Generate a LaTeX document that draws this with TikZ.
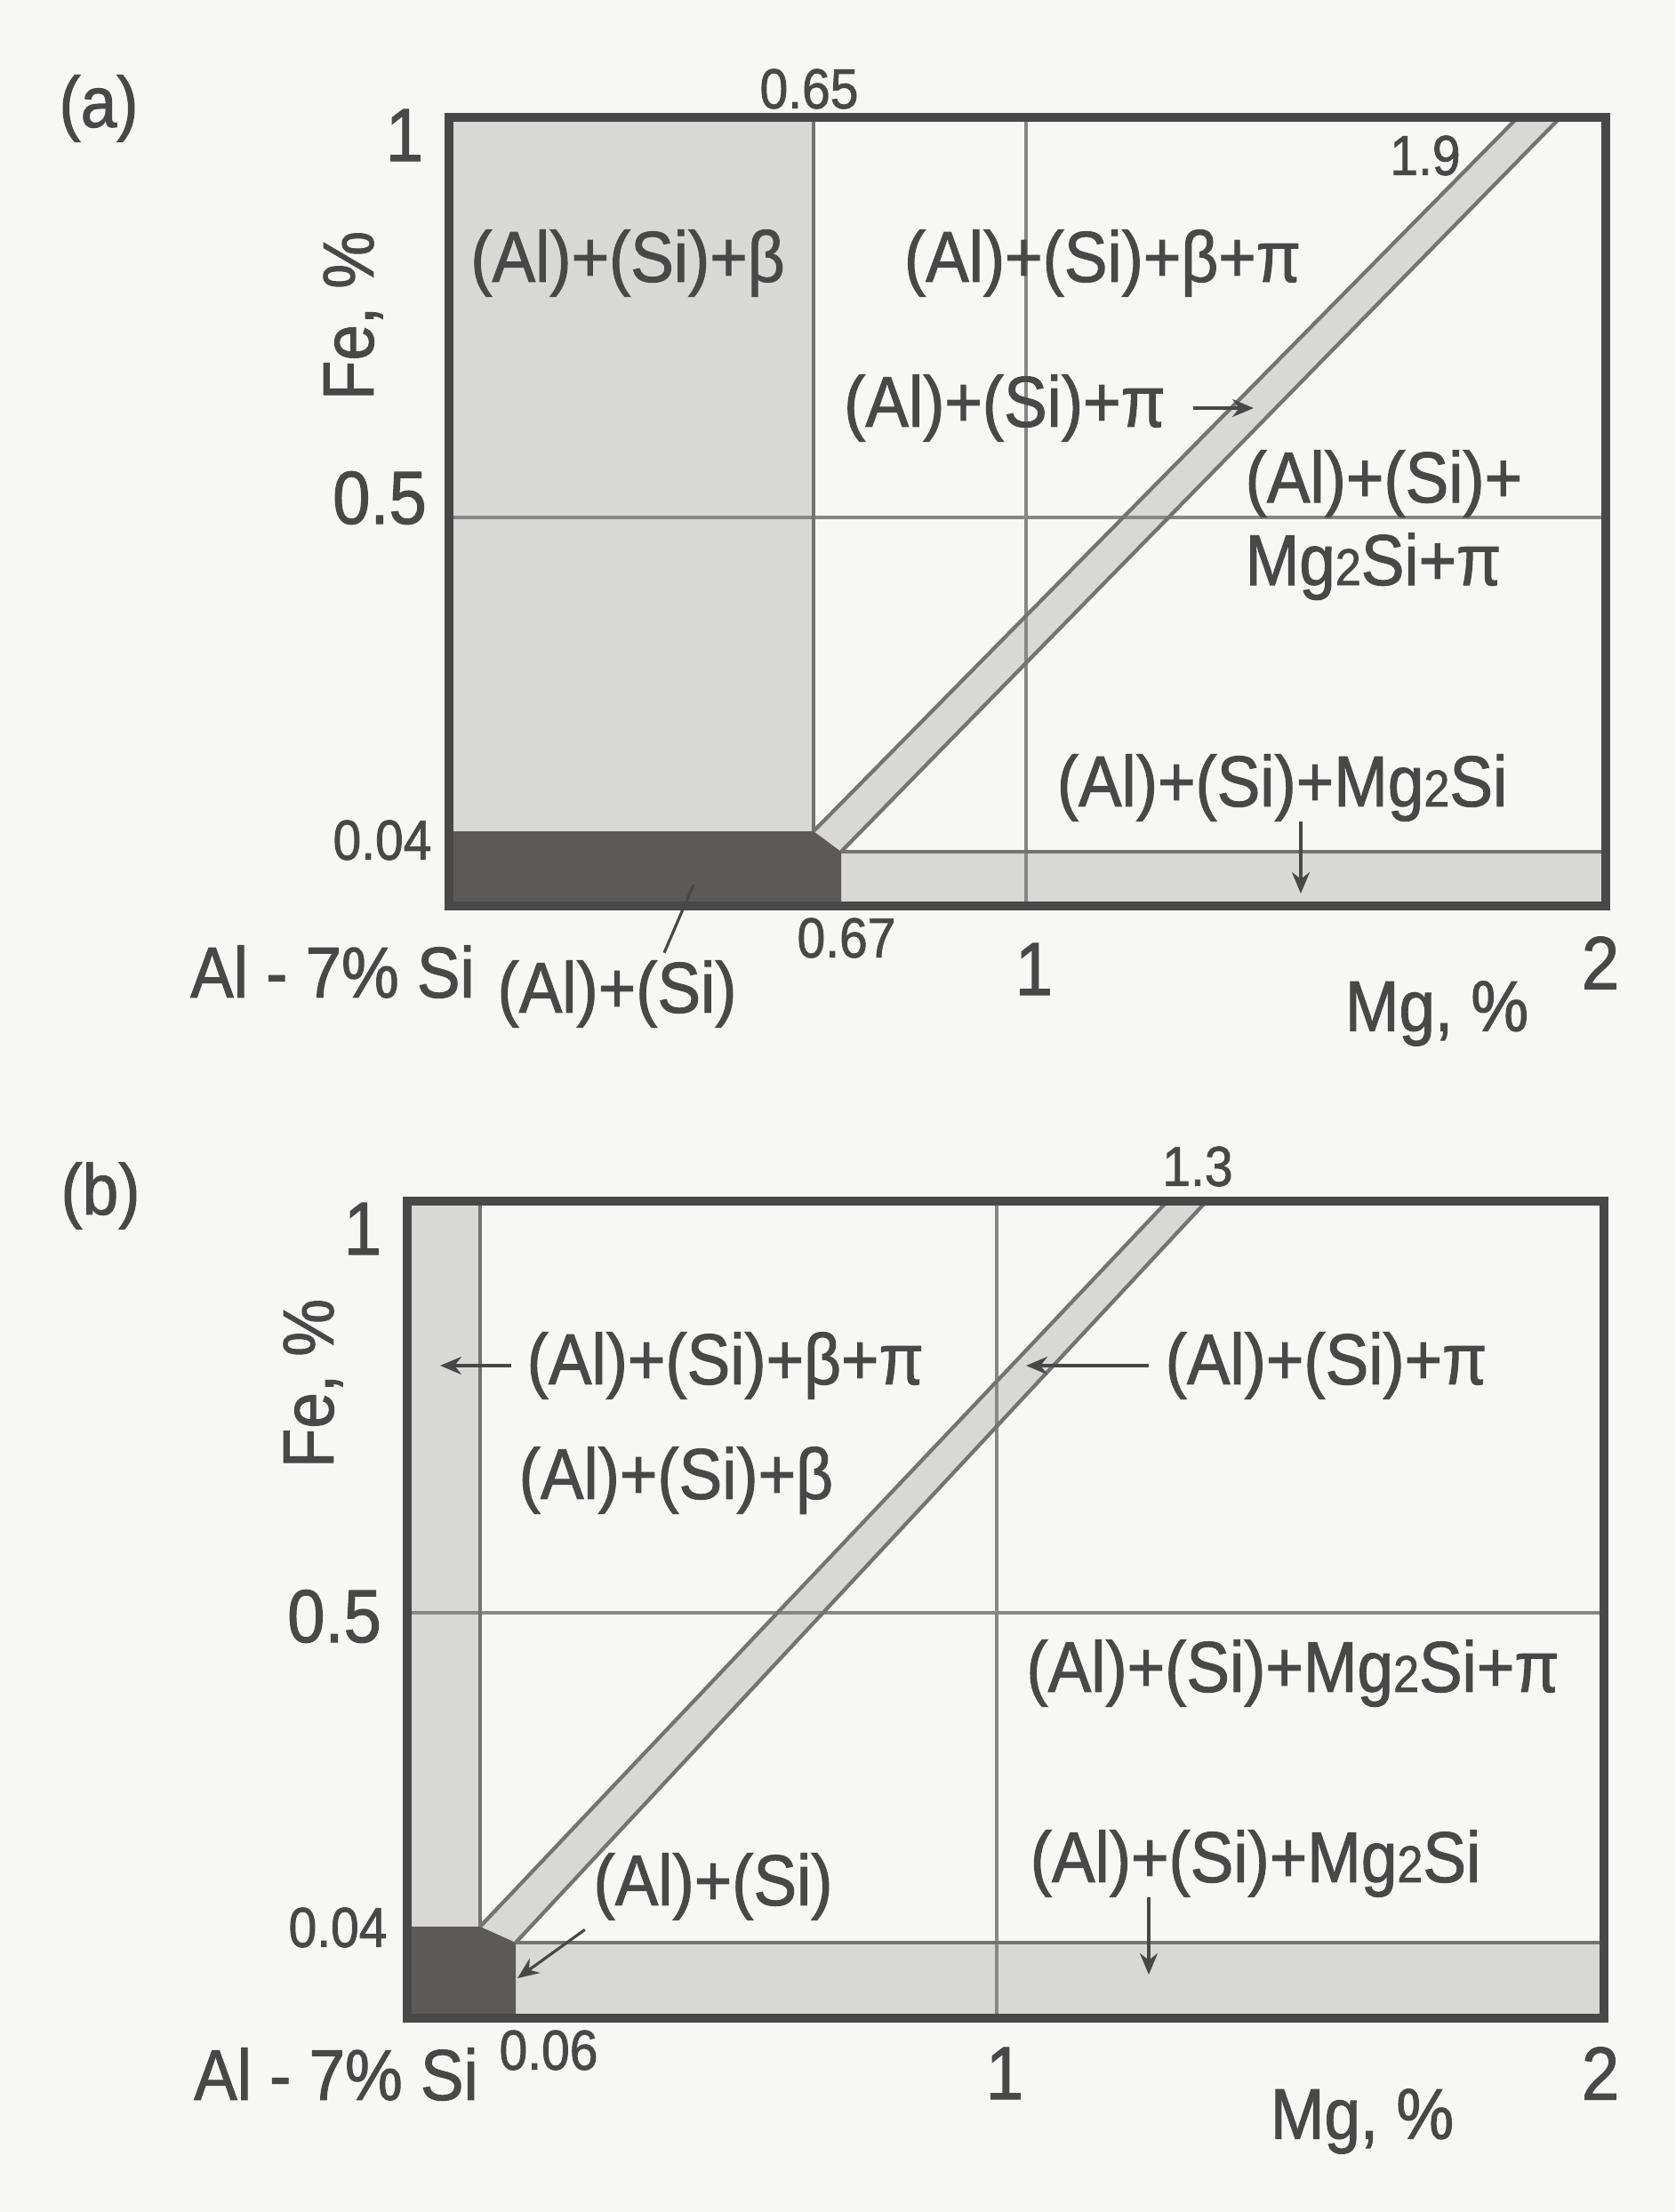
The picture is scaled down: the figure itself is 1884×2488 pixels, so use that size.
\documentclass[tikz,border=0pt]{standalone}
\usepackage{fontspec}
\setmainfont{Liberation Sans}[FakeStretch=0.9, FakeBold=1.3]
\usetikzlibrary{arrows.meta}
\definecolor{bg}{RGB}{247,247,245}
\definecolor{ink}{RGB}{72,72,72}
\definecolor{lgray}{RGB}{216,216,214}
\definecolor{dgray}{RGB}{92,90,88}
\definecolor{gridc}{RGB}{135,135,135}
\newcommand{\rgfnt}{\fontsize{23pt}{27pt}\selectfont}
\newcommand{\tkfnt}{\fontsize{24pt}{28pt}\selectfont}
\newcommand{\snfnt}{\fontsize{18pt}{21pt}\selectfont}
\newcommand{\mgtwo}{{\fontsize{16.5pt}{16.5pt}\selectfont 2}}
\tikzset{
  reglab/.style={text=ink, font=\rgfnt, inner sep=0pt},
  ticklab/.style={text=ink, font=\tkfnt, inner sep=0pt},
  axlab/.style={text=ink, font=\rgfnt, inner sep=0pt},
  numlab/.style={text=ink, font=\snfnt, inner sep=0pt},
  boxframe/.style={draw=ink, line width=3.1pt},
  gridline/.style={draw=gridc, line width=1.3pt},
  lightfill/.style={fill=lgray},
  darkfill/.style={fill=dgray},
  bandedge/.style={draw=gridc!85!black, line width=1.2pt},
  ptr/.style={draw=ink, line width=0.9pt, -{Stealth[length=0.24cm,width=0.2cm]}},
  lead/.style={draw=ink, line width=0.9pt},
}
\begin{document}
\begin{tikzpicture}[x=0.01cm, y=-0.01cm]
\path[use as bounding box, fill=bg] (0,0) rectangle (1884,2488);

% ================= panel (a) =================
\fill[lightfill] (505,132) rectangle (915,935);
\fill[lightfill] (946,958) rectangle (1806,1019);
\fill[lightfill] (915,935) -- (1707,132) -- (1755,132) -- (946,958) -- cycle;
\fill[darkfill] (505,935) -- (915,935) -- (946,958) -- (946,1019) -- (505,1019) -- cycle;
\draw[gridline] (1154,132) -- (1154,1019);
\draw[gridline] (505,582) -- (1806,582);
\draw[bandedge] (915,132) -- (915,935);
\draw[bandedge] (915,935) -- (1707,132);
\draw[bandedge] (946,958) -- (1755,132);
\draw[bandedge] (946,958) -- (1806,958);
\draw[boxframe] (505,132) rectangle (1806,1019);

\node[axlab] (pa) at (111,122) {(a)};
\node[numlab] (a065) at (910,100) {0.65};
\node[ticklab] (ay1) at (455,152) {1};
\node[ticklab] (ay05) at (427,560) {0.5};
\node[numlab] (ay004) at (430,945) {0.04};
\node[axlab, rotate=90] (afe) at (397,355) {Fe, \%};
\node[numlab] (a19) at (1603,175) {1.9};
\node[reglab] (ar1) at (706,296) {(Al)+(Si)+β};
\node[reglab] (ar2) at (1240,296) {(Al)+(Si)+β+π};
\node[reglab] (ar3) at (1130,459) {(Al)+(Si)+π};
\coordinate (ar3t) at (1410,459);
\draw[ptr] ([xshift=0.3cm]ar3.east) -- (ar3t);
\node[reglab, anchor=base west] (ar4) at (1400,565) {(Al)+(Si)+};
\node[reglab, anchor=base west] (ar4b) at (1400,658) {Mg\mgtwo Si+π};
\node[reglab] (ar5) at (1442,886) {(Al)+(Si)+Mg\mgtwo Si};
\coordinate (ar5t) at (1463,1005);
\draw[ptr] (ar5.south -| ar5t) -- (ar5t);
\node[numlab] (a067) at (952,1055) {0.67};
\node[ticklab] (ax1) at (1163,1090) {1};
\node[ticklab] (ax2) at (1800,1083) {2};
\node[axlab] (amg) at (1616,1140) {Mg, \%};
\node[axlab] (asi) at (374,1093) {Al - 7\% Si};
\node[reglab] (ar6) at (694,1118) {(Al)+(Si)};
\coordinate (ar6t) at (780,995);
\draw[lead] ([xshift=0.53cm,yshift=0.08cm]ar6.north) -- (ar6t);

% ================= panel (b) =================
\fill[lightfill] (458,1351) rectangle (540,2167);
\fill[lightfill] (580,2185) rectangle (1804,2270);
\fill[lightfill] (540,2167) -- (1313,1351) -- (1357,1351) -- (580,2185) -- cycle;
\fill[darkfill] (458,2167) -- (540,2167) -- (580,2185) -- (580,2270) -- (458,2270) -- cycle;
\draw[gridline] (1121,1351) -- (1121,2270);
\draw[gridline] (458,1814) -- (1804,1814);
\draw[bandedge] (540,1351) -- (540,2167);
\draw[bandedge] (540,2167) -- (1313,1351);
\draw[bandedge] (580,2185) -- (1357,1351);
\draw[bandedge] (580,2185) -- (1804,2185);
\draw[boxframe] (458,1351) rectangle (1804,2270);

\node[axlab] (pb) at (113,1345) {(b)};
\node[numlab] (b13) at (1347,1312) {1.3};
\node[ticklab] (by1) at (408,1382) {1};
\node[ticklab] (by05) at (376,1818) {0.5};
\node[numlab] (by004) at (380,2168) {0.04};
\node[axlab, rotate=90] (bfe) at (352,1556) {Fe, \%};
\node[reglab, anchor=west] (br1) at (592,1536) {(Al)+(Si)+β+π};
\coordinate (br1t) at (495,1536);
\draw[ptr] ([xshift=-0.17cm]br1.west) -- (br1t);
\node[reglab, anchor=west] (br2) at (583,1665) {(Al)+(Si)+β};
\node[reglab, anchor=west] (br3) at (1310,1536) {(Al)+(Si)+π};
\coordinate (br3t) at (1154,1536);
\draw[ptr] ([xshift=-0.18cm]br3.west) -- (br3t);
\node[reglab] (br4) at (1454,1882) {(Al)+(Si)+Mg\mgtwo Si+π};
\node[reglab] (br5) at (1412,2096) {(Al)+(Si)+Mg\mgtwo Si};
\coordinate (br5t) at (1292,2221);
\draw[ptr] (br5.south -| br5t) -- (br5t);
\node[reglab] (br6) at (802,2122) {(Al)+(Si)};
\coordinate (br6t) at (582,2225);
\draw[ptr] ([xshift=-0.09cm,yshift=-0.1cm]br6.south west) -- (br6t);
\node[axlab] (bsi) at (378,2333) {Al - 7\% Si};
\node[numlab] (b006) at (617,2306) {0.06};
\node[ticklab] (bx1) at (1130,2332) {1};
\node[ticklab] (bx2) at (1800,2332) {2};
\node[axlab] (bmg) at (1532,2386) {Mg, \%};
\end{tikzpicture}
\end{document}
